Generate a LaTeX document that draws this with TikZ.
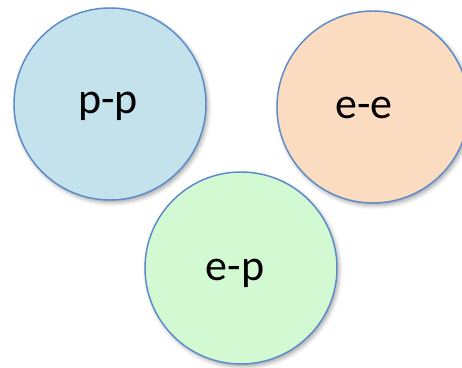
\documentclass[tikz,border=0pt]{standalone}
\usepackage{fontspec}
\setmainfont{Carlito}
\usetikzlibrary{shadows.blur}
\definecolor{edge}{HTML}{5B8BC9}
\definecolor{ppfill}{HTML}{C3E2EC}
\definecolor{eefill}{HTML}{FBDCC1}
\definecolor{epfill}{HTML}{D3F9D3}
\begin{document}
\begin{tikzpicture}[x=0.75pt,y=-0.75pt,
  ball/.style={circle, draw=edge, line width=1.1pt, minimum size=192*0.75pt, inner sep=0pt,
    blur shadow={shadow xshift=1.5pt, shadow yshift=-2pt, shadow blur radius=3pt, shadow opacity=35}},
  lbl/.style={anchor=base, inner sep=0pt, font=\fontsize{33}{40}\selectfont}]
\useasboundingbox (0,0) rectangle (462,368);
\clip (0,0) rectangle (462,368);
\node[ball, fill=ppfill] (pp) at (110,104) {};
\node[ball, fill=eefill] (ee) at (373,107) {};
\node[ball, fill=epfill] (ep) at (241,268) {};
\node[lbl] (ppt) at (108,113) {p-p};
\node[lbl] (eet) at (364,118) {e-e};
\node[lbl] (ept) at (235,280) {e-p};
\end{tikzpicture}
\end{document}
